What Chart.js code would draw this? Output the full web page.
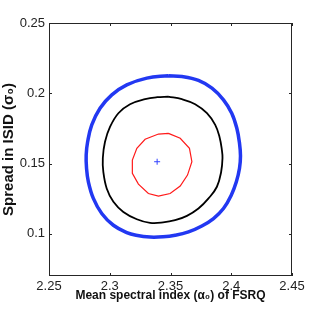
<!DOCTYPE html>
<html>
<head>
<meta charset="utf-8">
<script src="https://cdn.jsdelivr.net/npm/chart.js@4/dist/chart.umd.min.js"></script>
<style>
  html, body { margin: 0; padding: 0; background: #fff; }
  #box { width: 322px; height: 316px; }
</style>
</head>
<body>
<div id="box"><canvas id="grafico"></canvas></div>
<script>
// contorno exterior (azul)
const outerAlpha = [2.3481, 2.3594, 2.3730, 2.3841, 2.3936, 2.4004, 2.4046, 2.4068, 2.4076, 2.4068, 2.4042, 2.4000,
  2.3936, 2.3854, 2.3758, 2.3648, 2.3538, 2.3439, 2.3332, 2.3217, 2.3140, 2.3030, 2.2934, 2.2865, 2.2824, 2.2809,
  2.2806, 2.2818, 2.2852, 2.2920, 2.3017, 2.3140, 2.3305, 2.3481];
const outerSigma = [0.2125, 0.2119, 0.2091, 0.2036, 0.1953, 0.1858, 0.1751, 0.1644, 0.1553, 0.1466, 0.1370, 0.1275,
  0.1180, 0.1109, 0.1056, 0.1014, 0.0990, 0.0979, 0.0977, 0.0990, 0.1009, 0.1061, 0.1145, 0.1252, 0.1370, 0.1466,
  0.1561, 0.1655, 0.1775, 0.1894, 0.1989, 0.2060, 0.2108, 0.2125];

// contorno medio (negro)
const middleAlpha = [2.3481, 2.3594, 2.3703, 2.3800, 2.3868, 2.3903, 2.3923, 2.3928, 2.3917, 2.3882, 2.3813, 2.3730,
  2.3635, 2.3538, 2.3439, 2.3332, 2.3223, 2.3112, 2.3030, 2.2975, 2.2947, 2.2943, 2.2961, 2.3003, 2.3071, 2.3167,
  2.3291, 2.3390, 2.3481];
const middleSigma = [0.1976, 0.1958, 0.1922, 0.1858, 0.1775, 0.1691, 0.1596, 0.1539, 0.1442, 0.1335, 0.1252, 0.1180,
  0.1128, 0.1097, 0.1081, 0.1078, 0.1104, 0.1156, 0.1228, 0.1323, 0.1442, 0.1539, 0.1655, 0.1762, 0.1858, 0.1922,
  0.1958, 0.1972, 0.1976];

// contorno interior (rojo)
const innerAlpha = [2.3483, 2.3401, 2.3291, 2.3223, 2.3186, 2.3186, 2.3236, 2.3318, 2.3401, 2.3497, 2.3580, 2.3640,
  2.3676, 2.3656, 2.3580, 2.3483];
const innerSigma = [0.1715, 0.1710, 0.1673, 0.1608, 0.1525, 0.1430, 0.1354, 0.1287, 0.1268, 0.1287, 0.1340, 0.1418,
  0.1513, 0.1608, 0.1680, 0.1715];

// mejor ajuste
const bestAlpha = [2.339];
const bestSigma = [0.1513];

// ticks
const xTickValues = [2.25, 2.3, 2.35, 2.4, 2.45];
const xTickLabels = ['2.25', '2.3', '2.35', '2.4', '2.45'];
const yTickValues = [0.1, 0.15, 0.2, 0.25];
const yTickLabels = ['0.1', '0.15', '0.2', '0.25'];

const fuente = "'Liberation Sans', Arial, sans-serif";

function puntos(xs, ys) {
  return xs.map((x, i) => ({ x: x, y: ys[i] }));
}

// marco y ticks internos estilo matlab
const marcoPlugin = {
  id: 'marco',
  afterDraw(chart) {
    const { ctx, chartArea: a, scales } = chart;
    ctx.save();
    ctx.strokeStyle = '#262626';
    ctx.lineWidth = 1;
    ctx.strokeRect(a.left + 0.5, a.top + 0.5, a.right - a.left - 1, a.bottom - a.top - 1);
    ctx.beginPath();
    xTickValues.forEach(v => {
      const px = Math.round(scales.x.getPixelForValue(v)) + 0.5;
      ctx.moveTo(px, a.bottom); ctx.lineTo(px, a.bottom - 3);
      ctx.moveTo(px, a.top); ctx.lineTo(px, a.top + 3);
    });
    yTickValues.forEach(v => {
      const py = Math.round(scales.y.getPixelForValue(v)) + 0.5;
      ctx.moveTo(a.left, py); ctx.lineTo(a.left + 3, py);
      ctx.moveTo(a.right, py); ctx.lineTo(a.right - 3, py);
    });
    ctx.stroke();
    ctx.restore();
  }
};

new Chart(document.getElementById('grafico'), {
  type: 'scatter',
  data: {
    datasets: [
      {
        label: 'outer',
        data: puntos(outerAlpha, outerSigma),
        showLine: true,
        borderColor: '#2238f2',
        borderWidth: 3.5,
        pointRadius: 0,
        tension: 0.4
      },
      {
        label: 'middle',
        data: puntos(middleAlpha, middleSigma),
        showLine: true,
        borderColor: '#000000',
        borderWidth: 1.8,
        pointRadius: 0,
        tension: 0.4
      },
      {
        label: 'inner',
        data: puntos(innerAlpha, innerSigma),
        showLine: true,
        borderColor: '#ff1a1a',
        borderWidth: 1.2,
        pointRadius: 0,
        tension: 0
      },
      {
        label: 'best',
        data: puntos(bestAlpha, bestSigma),
        showLine: false,
        pointStyle: 'cross',
        pointRadius: 3,
        borderColor: '#3344ff',
        borderWidth: 1
      }
    ]
  },
  options: {
    responsive: true,
    maintainAspectRatio: false,
    animation: false,
    layout: { padding: { top: 23, right: 30, left: 0, bottom: 0 } },
    plugins: {
      legend: { display: false },
      tooltip: { enabled: false }
    },
    scales: {
      x: {
        type: 'linear',
        min: 2.25,
        max: 2.45,
        afterBuildTicks: s => { s.ticks = xTickValues.map(v => ({ value: v })); },
        afterFit: s => { s.height = 40; },
        grid: { display: false, drawTicks: false },
        border: { display: false },
        ticks: {
          padding: 3,
          color: '#222',
          font: { family: fuente, size: 13 },
          maxRotation: 0,
          callback: (v, i) => xTickLabels[i]
        },
        title: {
          display: true,
          text: 'Mean spectral index (α₀) of FSRQ',
          color: '#111',
          font: { family: fuente, size: 12, weight: 'bold' },
          padding: { top: 0, bottom: 13 }
        }
      },
      y: {
        type: 'linear',
        min: 0.07,
        max: 0.25,
        afterBuildTicks: s => { s.ticks = yTickValues.map(v => ({ value: v })); },
        afterFit: s => { s.width = 49; },
        grid: { display: false, drawTicks: false },
        border: { display: false },
        ticks: {
          padding: 4,
          color: '#222',
          font: { family: fuente, size: 13 },
          callback: (v, i) => yTickLabels[i]
        },
        title: {
          display: true,
          text: 'Spread in ISID (σ₀)',
          color: '#111',
          font: { family: fuente, size: 15, weight: 'bold' },
          padding: { top: 0, bottom: 0 }
        }
      }
    }
  },
  plugins: [marcoPlugin]
});
</script>
</body>
</html>
